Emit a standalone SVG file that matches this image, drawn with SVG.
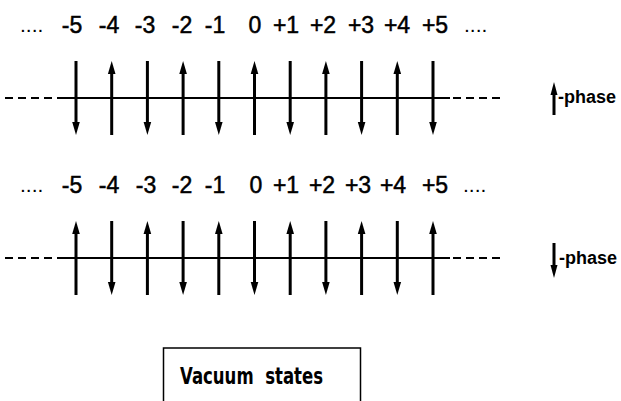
<svg xmlns="http://www.w3.org/2000/svg" width="621" height="401" viewBox="0 0 621 401">
<style>
.lbl{font-family:"Liberation Sans","DejaVu Sans",sans-serif;font-size:23px;fill:#000;stroke:#000;stroke-width:0.5;text-anchor:middle}
.dots{font-family:"Liberation Sans",sans-serif;font-size:21px;fill:#000}
.ph{font-family:"Liberation Sans","DejaVu Sans",sans-serif;font-weight:bold;font-size:18px;fill:#000}
.box{font-family:"DejaVu Sans","Liberation Sans",sans-serif;font-weight:bold;font-size:23px;fill:#000}
.axis{stroke:#000;stroke-width:2;fill:none}
.dash{stroke:#000;stroke-width:2;fill:none;stroke-dasharray:8 5}
.shaft{stroke:#000;stroke-width:3;fill:none}
.head{fill:#000;stroke:none}
</style>
<defs>
<g id="up"><line class="shaft" x1="0" y1="10" x2="0" y2="74"/><path class="head" d="M0,0 L3.8,13 L-3.8,13 Z"/></g>
<g id="down"><line class="shaft" x1="0" y1="0" x2="0" y2="64"/><path class="head" d="M0,74 L3.8,61 L-3.8,61 Z"/></g>
</defs>
<rect width="621" height="401" fill="#fff"/>

<g id="labels-top">
<text class="dots" x="20" y="32">....</text>
<text class="lbl" x="72" y="33">-5</text>
<text class="lbl" x="109" y="33">-4</text>
<text class="lbl" x="145" y="33">-3</text>
<text class="lbl" x="182" y="33">-2</text>
<text class="lbl" x="215" y="33">-1</text>
<text class="lbl" x="255" y="33">0</text>
<text class="lbl" x="286" y="33">+1</text>
<text class="lbl" x="323" y="33">+2</text>
<text class="lbl" x="361" y="33">+3</text>
<text class="lbl" x="397" y="33">+4</text>
<text class="lbl" x="435" y="33">+5</text>
<text class="dots" x="464" y="32">....</text>
</g>

<g id="connectors">
<line class="dash" x1="5" y1="98" x2="58" y2="98"/>
<line class="axis" x1="58" y1="98" x2="450" y2="98"/>
<line class="dash" x1="453" y1="98" x2="505" y2="98"/>
<line class="dash" x1="5" y1="258" x2="58" y2="258"/>
<line class="axis" x1="58" y1="258" x2="450" y2="258"/>
<line class="dash" x1="453" y1="258" x2="505" y2="258"/>
</g>

<g id="arrows-top">
<use href="#down" x="76" y="61"/>
<use href="#up" x="111.7" y="61"/>
<use href="#down" x="147.4" y="61"/>
<use href="#up" x="183.1" y="61"/>
<use href="#down" x="218.8" y="61"/>
<use href="#up" x="254.5" y="61"/>
<use href="#down" x="290.2" y="61"/>
<use href="#up" x="325.9" y="61"/>
<use href="#down" x="361.6" y="61"/>
<use href="#up" x="397.3" y="61"/>
<use href="#down" x="433" y="61"/>
</g>

<g id="phase-up">
<line class="shaft" x1="554" y1="92" x2="554" y2="115"/>
<path class="head" d="M554,82 L557.5,95 L550.5,95 Z"/>
<text class="ph" x="558" y="103">-phase</text>
</g>

<g id="labels-bottom">
<text class="dots" x="20" y="192">....</text>
<text class="lbl" x="72" y="193">-5</text>
<text class="lbl" x="109" y="193">-4</text>
<text class="lbl" x="146" y="193">-3</text>
<text class="lbl" x="182" y="193">-2</text>
<text class="lbl" x="215" y="193">-1</text>
<text class="lbl" x="256" y="193">0</text>
<text class="lbl" x="286" y="193">+1</text>
<text class="lbl" x="322" y="193">+2</text>
<text class="lbl" x="358" y="193">+3</text>
<text class="lbl" x="393" y="193">+4</text>
<text class="lbl" x="435" y="193">+5</text>
<text class="dots" x="463" y="192">....</text>
</g>

<g id="arrows-bottom">
<use href="#up" x="76" y="221"/>
<use href="#down" x="111.7" y="221"/>
<use href="#up" x="147.4" y="221"/>
<use href="#down" x="183.1" y="221"/>
<use href="#up" x="218.8" y="221"/>
<use href="#down" x="254.5" y="221"/>
<use href="#up" x="290.2" y="221"/>
<use href="#down" x="325.9" y="221"/>
<use href="#up" x="361.6" y="221"/>
<use href="#down" x="397.3" y="221"/>
<use href="#up" x="433" y="221"/>
</g>

<g id="phase-down">
<line class="shaft" x1="554" y1="243" x2="554" y2="266"/>
<path class="head" d="M554,278 L557.5,265 L550.5,265 Z"/>
<text class="ph" x="559" y="264">-phase</text>
</g>

<g id="vacuum-box">
<rect x="163.5" y="348" width="197" height="60" fill="none" stroke="#000" stroke-width="1.5"/>
<text class="box" x="180" y="384" textLength="143" lengthAdjust="spacingAndGlyphs" xml:space="preserve">Vacuum  states</text>
</g>
</svg>
